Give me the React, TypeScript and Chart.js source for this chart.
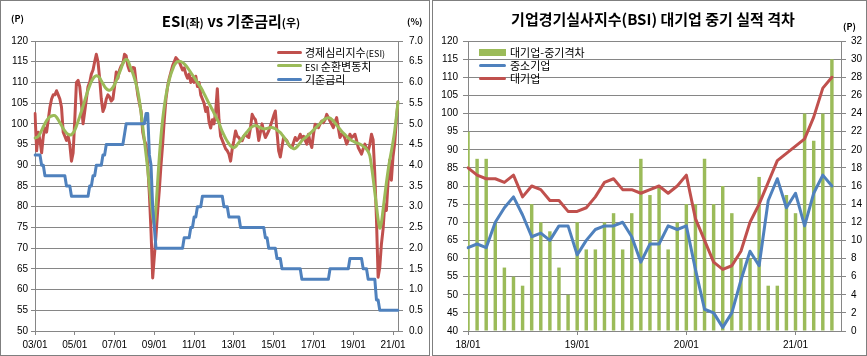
import React, { useEffect, useRef } from 'react';
import { Chart, registerables } from 'chart.js';

Chart.register(...registerables);

// ---------------- Left chart: ESI vs 기준금리 (2003/01 ~ 2021/04, monthly) ----------------
function monthLabels(startYear: number, count: number): string[] {
  const out: string[] = [];
  for (let i = 0; i < count; i++) {
    const y = startYear + Math.floor(i / 12);
    const m = (i % 12) + 1;
    out.push(`${String(y % 100).padStart(2, '0')}/${String(m).padStart(2, '0')}`);
  }
  return out;
}

const ESI_MONTHS = monthLabels(2003, 220);
const ESI_TICKS = ['03/01', '05/01', '07/01', '09/01', '11/01', '13/01', '15/01', '17/01', '19/01', '21/01'];

// 경제심리지수(ESI)
const ESI = [
  102.5, 93.5, 98, 96, 93, 97, 99, 98, 101, 104, 106, 107, // 2003
  107, 108, 107, 106, 104, 98, 97, 96, 97, 95, 91, 93, // 2004
  101, 110, 110.5, 109, 105, 100, 103, 106, 109, 110, 112, 113, // 2005
  115, 116.8, 115, 111, 106, 103, 104, 106, 107, 106.5, 105.5, 106, // 2006
  109, 112.5, 111, 113, 114, 114.5, 116.8, 116.4, 114, 112.8, 113, 113.6, // 2007
  113.5, 110, 107, 105, 103, 98, 96, 95, 90, 83, 74, 62.8, // 2008
  68, 73, 79, 84, 90, 95, 101, 106, 109, 111, 112.5, 114, // 2009
  115, 116, 115.5, 115, 114, 113, 113.5, 112, 111, 112, 110, 111, // 2010
  110, 111.5, 109, 110, 107, 106, 105, 103, 104, 100.5, 99, 101, // 2011
  100, 103, 108.5, 101, 97, 96, 95, 94, 93.5, 92.7, 91, 94, // 2012
  96, 98.3, 97, 96.7, 96, 95.9, 97, 97.5, 97, 96.7, 99, 102.3, // 2013
  101.5, 101, 99, 96, 98, 100, 98, 96.7, 97.5, 98.3, 99.5, 100.7, // 2014
  102, 103.1, 98, 93.5, 92, 94.5, 96.7, 96.3, 95.9, 95, 94.5, 94.3, // 2015
  95.5, 96.7, 96, 96.5, 97.5, 96.5, 97, 96, 95.1, 97.5, 95.5, 94.3, // 2016
  97.5, 99.9, 99.5, 99.1, 100, 100.7, 100.3, 101, 102.3, 101.5, 100.7, 99.9, // 2017
  99.1, 100.5, 101.5, 99, 96.7, 97.5, 97.5, 96.5, 95.1, 96, 97.5, 96.7, // 2018
  97, 97.5, 96, 94.3, 93.5, 92.7, 94, 95.1, 94, 93.5, 95, 97.5, // 2019
  96.1, 87.9, 77.1, 63, 65.4, 71, 74.6, 80.5, 79.1, 86, 91.3, 86.4, // 2020
  92.1, 95.3, 100.8, 105.3, // 2021
];

// ESI 순환변동치
const ESI_CYCLE = [
  96.6, 96.7, 97.0, 97.6, 98.4, 99.3, 100.1, 100.8, 101.3, 101.7, 101.9, 102.0, // 2003
  102.0, 101.6, 101.0, 100.3, 99.6, 98.9, 98.3, 97.8, 97.5, 97.3, 97.4, 97.8, // 2004
  98.5, 99.5, 100.6, 101.8, 103.0, 104.3, 105.6, 106.9, 108.1, 109.2, 110.2, 110.9, // 2005
  111.4, 111.6, 111.5, 111.1, 110.4, 109.7, 109.0, 108.5, 108.2, 108.1, 108.3, 108.8, // 2006
  109.5, 110.4, 111.4, 112.4, 113.4, 114.6, 115.3, 115.6, 115.3, 114.3, 113.2, 112.2, // 2007
  111.0, 109.6, 107.9, 105.6, 102.7, 99.4, 96.0, 92.6, 89.0, 85.0, 81.0, 77.5, // 2008
  75.8, 80.0, 86.0, 92.0, 97.0, 101.0, 104.2, 106.8, 108.9, 110.6, 112.0, 113.1, // 2009
  114.1, 114.7, 115.0, 115.1, 115.0, 114.8, 114.5, 114.1, 113.6, 113.0, 112.4, 111.8, // 2010
  111.2, 110.6, 110.0, 109.4, 108.8, 108.1, 107.3, 106.5, 105.7, 104.9, 104.2, 103.4, // 2011
  102.6, 101.8, 101.0, 100.2, 99.1, 98.1, 97.3, 96.5, 95.8, 95.2, 94.7, 94.4, // 2012
  94.2, 94.5, 95.0, 95.5, 96.0, 96.5, 97.1, 97.6, 98.1, 98.6, 99.0, 99.3, // 2013
  99.5, 99.6, 99.5, 99.3, 99.1, 98.9, 98.8, 98.8, 98.9, 99.0, 99.1, 99.1, // 2014
  99.0, 98.8, 98.5, 98.2, 97.9, 97.4, 96.9, 96.3, 95.7, 95.1, 94.6, 94.2, // 2015
  94.0, 94.1, 94.4, 94.9, 95.4, 95.9, 96.3, 96.6, 97.0, 97.3, 97.7, 98.1, // 2016
  98.5, 98.9, 99.3, 99.7, 100.1, 100.5, 100.9, 101.2, 101.4, 101.5, 101.4, 101.1, // 2017
  100.7, 100.2, 99.7, 99.2, 98.7, 98.2, 97.8, 97.4, 97.0, 96.6, 96.3, 96.0, // 2018
  95.8, 95.6, 95.4, 95.3, 95.1, 94.9, 94.6, 94.3, 93.9, 93.3, 92.3, 89.8, // 2019
  86.8, 83.5, 80.2, 77.0, 74.8, 76.2, 79.3, 82.6, 85.8, 88.7, 91.2, 93.4, // 2020
  95.7, 98.3, 101.7, 105.3, // 2021
];

// 기준금리 (%)
const BASE_RATE = [
  4.25, 4.25, 4.25, 4.25, 4.0, 4.0, 3.75, 3.75, 3.75, 3.75, 3.75, 3.75, // 2003
  3.75, 3.75, 3.75, 3.75, 3.75, 3.75, 3.75, 3.5, 3.5, 3.5, 3.25, 3.25, // 2004
  3.25, 3.25, 3.25, 3.25, 3.25, 3.25, 3.25, 3.25, 3.25, 3.5, 3.5, 3.75, // 2005
  3.75, 4.0, 4.0, 4.0, 4.0, 4.25, 4.25, 4.5, 4.5, 4.5, 4.5, 4.5, // 2006
  4.5, 4.5, 4.5, 4.5, 4.5, 4.5, 4.75, 5.0, 5.0, 5.0, 5.0, 5.0, // 2007
  5.0, 5.0, 5.0, 5.0, 5.0, 5.0, 5.0, 5.25, 5.25, 4.25, 4.0, 3.0, // 2008
  2.5, 2.0, 2.0, 2.0, 2.0, 2.0, 2.0, 2.0, 2.0, 2.0, 2.0, 2.0, // 2009
  2.0, 2.0, 2.0, 2.0, 2.0, 2.0, 2.25, 2.25, 2.25, 2.25, 2.5, 2.5, // 2010
  2.75, 2.75, 3.0, 3.0, 3.0, 3.25, 3.25, 3.25, 3.25, 3.25, 3.25, 3.25, // 2011
  3.25, 3.25, 3.25, 3.25, 3.25, 3.25, 3.0, 3.0, 3.0, 2.75, 2.75, 2.75, // 2012
  2.75, 2.75, 2.75, 2.75, 2.5, 2.5, 2.5, 2.5, 2.5, 2.5, 2.5, 2.5, // 2013
  2.5, 2.5, 2.5, 2.5, 2.5, 2.5, 2.5, 2.25, 2.25, 2.0, 2.0, 2.0, // 2014
  2.0, 2.0, 1.75, 1.75, 1.75, 1.5, 1.5, 1.5, 1.5, 1.5, 1.5, 1.5, // 2015
  1.5, 1.5, 1.5, 1.5, 1.5, 1.25, 1.25, 1.25, 1.25, 1.25, 1.25, 1.25, // 2016
  1.25, 1.25, 1.25, 1.25, 1.25, 1.25, 1.25, 1.25, 1.25, 1.25, 1.5, 1.5, // 2017
  1.5, 1.5, 1.5, 1.5, 1.5, 1.5, 1.5, 1.5, 1.5, 1.5, 1.75, 1.75, // 2018
  1.75, 1.75, 1.75, 1.75, 1.75, 1.75, 1.5, 1.5, 1.5, 1.25, 1.25, 1.25, // 2019
  1.25, 1.25, 0.75, 0.75, 0.5, 0.5, 0.5, 0.5, 0.5, 0.5, 0.5, 0.5, // 2020
  0.5, 0.5, 0.5, 0.5, // 2021
];

// ---------------- Right chart: BSI 대기업 vs 중소기업 (2018/01 ~ 2021/05; axis to 2021/06) ----------------
const BSI_MONTHS = monthLabels(2018, 42);
const BSI_TICKS = ['18/01', '19/01', '20/01', '21/01'];

const BSI_GAP = [
  22, 19, 19, 12, 7, 6, 5, 14, 12, 11, 7, 4, // 2018
  12, 9, 9, 12, 13, 9, 13, 19, 15, 16, 9, 12, // 2019
  14, 14, 19, 14, 16, 13, 8, 8, 17, 5, 5, 15, // 2020
  13, 24, 21, 24, 30, // 2021
];
const BSI_SME = [
  63, 64, 63, 70, 74, 77, 72, 66, 67, 65, 69, 69, // 2018
  61, 65, 68, 69, 69, 70, 66, 59, 64, 64, 69, 68, // 2019
  69, 57, 46, 45, 41, 45, 54, 62, 58, 76, 82, 74, // 2020
  78, 69, 78, 83, 80, // 2021
];
const BSI_LARGE = [
  85, 83, 82, 82, 81, 83, 77, 80, 79, 76, 76, 73, // 2018
  73, 74, 77, 81, 82, 79, 79, 78, 79, 80, 78, 80, // 2019
  83, 71, 65, 59, 57, 58, 62, 70, 75, 81, 87, 89, // 2020
  91, 93, 99, 107, 110, // 2021
];

// ---------------- styles ----------------
const GRID = '#868686';
const RED = '#C0504D';
const GREEN = '#9BBB59';
const BLUE = '#4F81BD';
const TICK_FONT = { family: "'Liberation Sans', 'Noto Sans CJK KR', sans-serif", size: 10 };
const KFONT = "'Noto Sans CJK KR', 'Liberation Sans', sans-serif";

function LeftChart() {
  const ref = useRef<HTMLCanvasElement>(null);
  useEffect(() => {
    const chart = new Chart(ref.current!, {
      type: 'line',
      data: {
        labels: ESI_MONTHS,
        datasets: [
          { label: '경제심리지수(ESI)', data: ESI, borderColor: RED, borderWidth: 3, pointRadius: 0, yAxisID: 'y', order: 3 },
          { label: 'ESI 순환변동치', data: ESI_CYCLE, borderColor: GREEN, borderWidth: 3, pointRadius: 0, yAxisID: 'y', order: 2, tension: 0.3 },
          { label: '기준금리', data: BASE_RATE, borderColor: BLUE, borderWidth: 3, pointRadius: 0, yAxisID: 'y2', order: 1 },
        ],
      },
      options: {
        animation: false,
        responsive: false,
        devicePixelRatio: 1,
        layout: { padding: { top: 41, left: 0, right: 0, bottom: 0 } },
        elements: { line: { borderJoinStyle: 'round', borderCapStyle: 'round' } },
        plugins: { legend: { display: false }, tooltip: { enabled: false } },
        scales: {
          x: {
            type: 'category',
            offset: false,
            grid: { drawOnChartArea: false, tickLength: 4, color: GRID, offset: false },
            border: { color: GRID },
            ticks: { autoSkip: false, maxRotation: 0, minRotation: 0, padding: 4, color: '#000', font: TICK_FONT },
            afterBuildTicks: (axis: any) => {
              axis.ticks = axis.ticks.filter((t: any) => ESI_TICKS.includes(ESI_MONTHS[t.value]));
            },
            afterFit: (axis: any) => { axis.height = 25; },
          },
          y: {
            position: 'left',
            min: 50,
            max: 120,
            ticks: { stepSize: 5, maxTicksLimit: 30, padding: 3, color: '#000', font: TICK_FONT },
            grid: { color: GRID, tickLength: 4 },
            border: { color: GRID },
            afterFit: (axis: any) => { axis.width = 35; },
          },
          y2: {
            position: 'right',
            min: 0,
            max: 7,
            ticks: { stepSize: 0.5, maxTicksLimit: 30, padding: 6, color: '#000', font: TICK_FONT, callback: (v: any) => Number(v).toFixed(1) },
            grid: { drawOnChartArea: false, color: GRID, tickLength: 5 },
            border: { color: GRID },
            afterFit: (axis: any) => { axis.width = 32; },
          },
        },
      } as any,
    });
    return () => chart.destroy();
  }, []);
  return <canvas ref={ref} width={430} height={356} style={{ position: 'absolute', left: 0, top: 0, width: 430, height: 356 }} />;
}

function RightChart() {
  const ref = useRef<HTMLCanvasElement>(null);
  useEffect(() => {
    const chart = new Chart(ref.current!, {
      type: 'bar',
      data: {
        labels: BSI_MONTHS,
        datasets: [
          { type: 'bar', label: '대기업-중기격차', data: BSI_GAP, backgroundColor: GREEN, yAxisID: 'y2', order: 3, barPercentage: 0.38, categoryPercentage: 1 },
          { type: 'line', label: '중소기업', data: BSI_SME, borderColor: BLUE, borderWidth: 3, pointRadius: 0, yAxisID: 'y', order: 2 },
          { type: 'line', label: '대기업', data: BSI_LARGE, borderColor: RED, borderWidth: 3, pointRadius: 0, yAxisID: 'y', order: 1 },
        ],
      },
      options: {
        animation: false,
        responsive: false,
        devicePixelRatio: 1,
        layout: { padding: { top: 41, left: 0, right: 0, bottom: 0 } },
        elements: { line: { borderJoinStyle: 'round', borderCapStyle: 'round' } },
        plugins: { legend: { display: false }, tooltip: { enabled: false } },
        scales: {
          x: {
            type: 'category',
            offset: false,
            grid: { drawOnChartArea: false, tickLength: 4, color: GRID, offset: false },
            border: { color: GRID },
            ticks: { autoSkip: false, maxRotation: 0, minRotation: 0, padding: 4, color: '#000', font: TICK_FONT },
            afterBuildTicks: (axis: any) => {
              axis.ticks = axis.ticks.filter((t: any) => BSI_TICKS.includes(BSI_MONTHS[t.value]));
            },
            afterFit: (axis: any) => { axis.height = 25; },
          },
          y: {
            position: 'left',
            min: 40,
            max: 120,
            ticks: { stepSize: 5, maxTicksLimit: 30, padding: 5, color: '#000', font: TICK_FONT },
            grid: { color: GRID, tickLength: 5 },
            border: { color: GRID },
            afterFit: (axis: any) => { axis.width = 35; },
          },
          y2: {
            position: 'right',
            min: 0,
            max: 32,
            ticks: { stepSize: 2, maxTicksLimit: 30, padding: 5, color: '#000', font: TICK_FONT },
            grid: { drawOnChartArea: false, color: GRID, tickLength: 5 },
            border: { color: GRID },
            afterFit: (axis: any) => { axis.width = 26; },
          },
        },
      } as any,
    });
    return () => chart.destroy();
  }, []);
  return <canvas ref={ref} width={434} height={356} style={{ position: 'absolute', left: 433, top: 0, width: 434, height: 356 }} />;
}

const abs = (s: React.CSSProperties): React.CSSProperties => ({ position: 'absolute', whiteSpace: 'nowrap', ...s });

function LegendRow(props: { x: number; y: number; color: string; w: number; h: number; gap: number; fontSize: number; children: React.ReactNode }) {
  const { x, y, color, w, h, gap, fontSize, children } = props;
  return (
    <>
      <div style={abs({ left: x, top: y - h / 2, width: w, height: h, background: color, borderRadius: h < 5 ? h / 2 : 0 })} />
      <div style={abs({ left: x + w + gap, top: y - 9, height: 18, lineHeight: '18px', fontSize, fontFamily: KFONT, color: '#000' })}>{children}</div>
    </>
  );
}

export default function App() {
  const small: React.CSSProperties = { fontSize: 9 };
  return (
    <div style={{ position: 'fixed', left: 0, top: 0, width: 867, height: 356, background: '#fff', overflow: 'hidden' }}>
      <LeftChart />
      <RightChart />

      {/* left panel texts */}
      <div style={abs({ left: 31, width: 400, top: 10, height: 22, lineHeight: '22px', textAlign: 'center', fontFamily: KFONT, fontWeight: 'bold', fontSize: 15, color: '#000' })}>
        ESI<span style={{ fontSize: 11 }}>(좌)</span> vs 기준금리<span style={{ fontSize: 11 }}>(우)</span>
      </div>
      <div style={abs({ left: 11, top: 12, height: 14, lineHeight: '14px', fontFamily: KFONT, fontWeight: 'bold', fontSize: 9 })}>(P)</div>
      <div style={abs({ left: 407, top: 15, height: 14, lineHeight: '14px', fontFamily: KFONT, fontWeight: 'bold', fontSize: 9 })}>(%)</div>
      <LegendRow x={277} y={52} color={RED} w={25} h={3} gap={3} fontSize={11}>경제심리지수<span style={small}>(ESI)</span></LegendRow>
      <LegendRow x={277} y={65.5} color={GREEN} w={25} h={3} gap={3} fontSize={11}><span style={small}>ESI</span> 순환변동치</LegendRow>
      <LegendRow x={277} y={79} color={BLUE} w={25} h={3} gap={3} fontSize={11}>기준금리</LegendRow>

      {/* right panel texts */}
      <div style={abs({ left: 453, width: 400, top: 8, height: 22, lineHeight: '22px', textAlign: 'center', fontFamily: KFONT, fontWeight: 'bold', fontSize: 15, color: '#000' })}>
        기업경기실사지수(BSI) 대기업 중기 실적 격차
      </div>
      <div style={abs({ left: 843, top: 20, height: 14, lineHeight: '14px', fontFamily: KFONT, fontWeight: 'bold', fontSize: 9 })}>(P)</div>
      <LegendRow x={479} y={52} color={GREEN} w={27} h={7} gap={4} fontSize={11}>대기업-중기격차</LegendRow>
      <LegendRow x={479} y={65.3} color={BLUE} w={27} h={3} gap={4} fontSize={11}>중소기업</LegendRow>
      <LegendRow x={479} y={78} color={RED} w={27} h={3} gap={4} fontSize={11}>대기업</LegendRow>

      {/* panel frames */}
      <div style={abs({ left: 0, top: 0, width: 428, height: 354, border: '1px solid #7f7f7f', pointerEvents: 'none' })} />
      <div style={abs({ left: 432, top: 0, width: 433, height: 354, border: '1px solid #7f7f7f', pointerEvents: 'none' })} />
    </div>
  );
}
